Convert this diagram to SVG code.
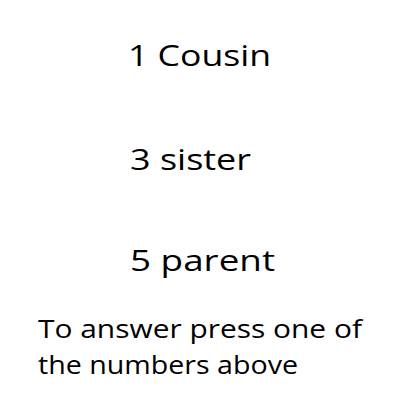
<svg xmlns="http://www.w3.org/2000/svg" width="400" height="400" viewBox="0 0 400 400">
<style>
text{font-family:"Open Sans","DejaVu Sans",sans-serif;fill:#000}
.big{font-size:30px}
.small{font-size:26px}
</style>
<rect width="400" height="400" fill="#fff"/>
<g id="option1"><text class="big" x="128" y="66" textLength="143" lengthAdjust="spacingAndGlyphs">1 Cousin</text></g>
<g id="option3"><text class="big" x="130" y="170" textLength="121" lengthAdjust="spacingAndGlyphs">3 sister</text></g>
<g id="option5"><text class="big" x="130" y="271" textLength="145" lengthAdjust="spacingAndGlyphs">5 parent</text></g>
<g id="instructions">
<text class="small" x="38" y="338" textLength="324" lengthAdjust="spacingAndGlyphs">To answer press one of</text>
<text class="small" x="38" y="374" textLength="260" lengthAdjust="spacingAndGlyphs">the numbers above</text>
</g>
</svg>
